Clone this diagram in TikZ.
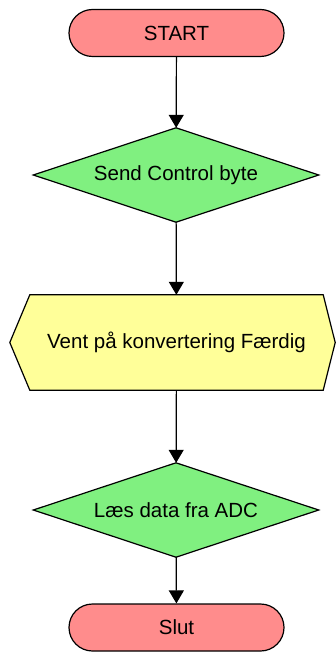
\documentclass[tikz,border=0pt]{standalone}
\usepackage{fontspec}
\setmainfont{Liberation Sans}
\usetikzlibrary{arrows.meta}
\definecolor{termred}{RGB}{255,140,140}
\definecolor{decgreen}{RGB}{128,240,128}
\definecolor{hexyellow}{RGB}{255,255,153}
\tikzset{
  txt/.style={font=\fontsize{20.5}{24}\selectfont},
  outline/.style={draw=black,line width=1.2pt,line join=miter},
  terminal/.style={txt,outline,rectangle,inner sep=0pt,rounded corners=23.5pt,fill=termred,minimum width=215pt,minimum height=47pt},
  decbox/.style={inner sep=0pt,minimum width=285pt,minimum height=94pt},
  conn/.style={line width=1.2pt,-{Triangle[width=15pt,length=13pt]}}
}
\begin{document}
\begin{tikzpicture}[x=1pt,y=-1pt]
\useasboundingbox (0,0) rectangle (336,652);
\node[terminal] (start) at (176.5,33) {START};
% decision 1
\node[decbox] (send) at (176,175) {};
\filldraw[fill=decgreen,outline] (send.north) -- (send.east) -- (send.south) -- (send.west) -- cycle;
\node[txt] at (send.center) {Send Control byte};
% hexagon
\node[inner sep=0pt,minimum width=293pt,minimum height=95pt] (vent) at (176.5,342.5) {};
\filldraw[fill=hexyellow,outline]
  (vent.north west) -- (vent.north east) -- ([xshift=12pt]vent.east) -- (vent.south east)
  -- (vent.south west) -- ([xshift=-20pt]vent.west) -- cycle;
\node[txt] at (vent.center) {Vent på konvertering Færdig};
% decision 2
\node[decbox] (laes) at (176,510) {};
\filldraw[fill=decgreen,outline] (laes.north) -- (laes.east) -- (laes.south) -- (laes.west) -- cycle;
\node[txt] at (laes.center) {Læs data fra ADC};
\node[terminal] (slut) at (176.5,627.5) {Slut};
\draw[conn] (start) -- (send);
\draw[conn] (send) -- (vent);
\draw[conn] (vent) -- (laes);
\draw[conn] (laes) -- (slut);
\end{tikzpicture}
\end{document}
